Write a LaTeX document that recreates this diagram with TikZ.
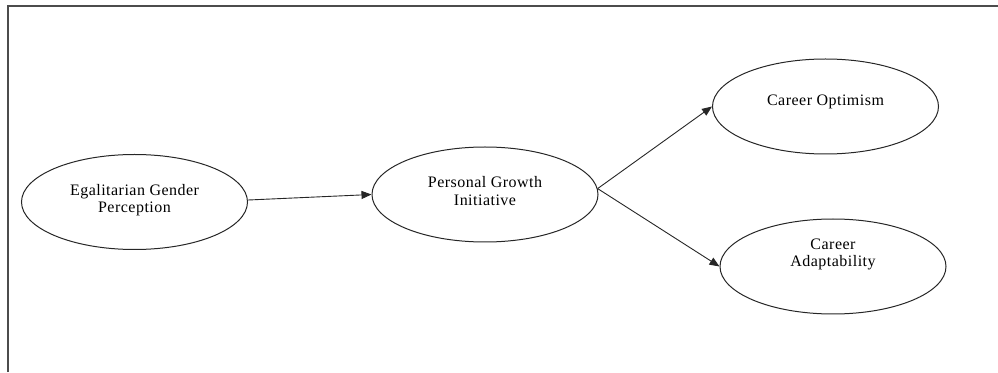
\documentclass[tikz,border=0pt]{standalone}
\usepackage{fontspec}
\setmainfont{Liberation Serif}[LetterSpace=3]
\usetikzlibrary{shapes.geometric,arrows.meta}
\begin{document}
\begin{tikzpicture}[x=1pt,y=1pt,
  oval/.style={draw=black!85,line width=1pt,ellipse,inner sep=0pt,minimum width=226pt,minimum height=95pt},
  lbl/.style={align=center,font=\fontsize{16}{17.5}\selectfont,text=black},
  link/.style={draw=black!85,line width=0.9pt,-{Triangle[length=10pt,width=8pt]}},
  frameline/.style={draw=black!70,line width=2pt}]
\useasboundingbox (0,0) rectangle (998,372);
\coordinate (fbl) at (8,0);
\coordinate (ftl) at (8,366);
\coordinate (ftr) at (998,366);
\draw[frameline] (fbl) -- (ftl) -- (ftr);
\node[oval] (E) at (134.5,170) {};
\node[oval] (P) at (485,177.5) {};
\node[oval] (O) at (825.5,265.5) {};
\node[oval] (A) at (833,105.5) {};
\node[lbl] (Et) at (134.5,172) {Egalitarian Gender\\Perception};
\node[lbl] (Pt) at (485,181) {Personal Growth\\Initiative};
\node[lbl] (Ot) at (825.5,270) {Career Optimism};
\node[lbl] (At) at (833,117.5) {Career\\Adaptability};
\draw[link] (E.1.5) -- (P.west);
\draw[link] (P.3) -- (O.west);
\draw[link] (P.3) -- (A.west);
\end{tikzpicture}
\end{document}
